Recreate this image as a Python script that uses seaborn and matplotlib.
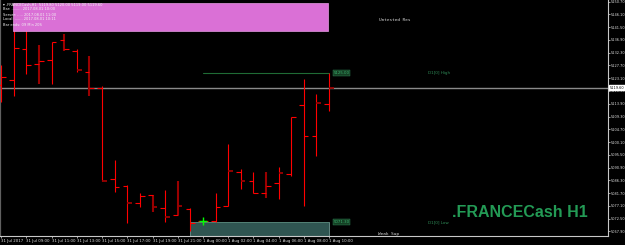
import matplotlib
matplotlib.use("Agg")
import matplotlib.pyplot as plt
import matplotlib.transforms as mtransforms
from matplotlib.patches import Rectangle
import pandas as pd
import seaborn as sns

# ---------------- data ----------------
opens  = [5120.7, 5122.5, 5133.6, 5128.2, 5129.7, 5136.9, 5132.9, 5125.3, 5119.6, 5086.8,
          5084.2, 5078.1, 5081.0, 5076.3, 5073.8, 5076.0, 5071.6, 5071.6, 5077.0, 5089.3,
          5086.1, 5081.7, 5085.3, 5088.6, 5113.4, 5102.3, 5113.8]
highs  = [5127.9, 5143.4, 5144.1, 5135.1, 5136.2, 5139.0, 5133.6, 5131.1, 5120.3, 5093.6,
          5084.6, 5081.7, 5081.0, 5082.8, 5086.1, 5076.3, 5071.9, 5081.7, 5099.4, 5090.4,
          5089.3, 5089.3, 5091.1, 5109.1, 5122.8, 5117.4, 5125.0]
lows   = [5114.5, 5116.7, 5124.6, 5121.0, 5121.0, 5132.9, 5125.3, 5116.7, 5086.1, 5082.1,
          5070.9, 5076.7, 5074.9, 5071.3, 5073.8, 5068.0, 5071.3, 5071.3, 5077.0, 5083.2,
          5081.7, 5079.9, 5079.6, 5087.9, 5077.0, 5095.1, 5111.3]
closes = [5123.5, 5134.0, 5127.9, 5129.3, 5136.2, 5133.6, 5126.1, 5119.6, 5086.1, 5083.9,
          5078.1, 5080.6, 5076.7, 5073.1, 5077.0, 5070.9, 5071.6, 5076.7, 5089.7, 5086.1,
          5081.7, 5084.2, 5088.9, 5109.1, 5102.3, 5114.2, 5119.6]
dark_body  = [0, 0, 0, 1, 0, 1, 0, 1, 0, 0, 0, 0, 1, 0, 1, 0, 0, 0, 0, 0, 0, 1, 0, 0, 0, 0, 0]
dark_close = [0, 0, 0, 0, 0, 0, 1, 0, 1, 0, 1, 0, 1, 1, 1, 0, 0, 0, 1, 1, 0, 0, 1, 0, 0, 1, 1]

x_tick_pos = [0, 2, 4, 6, 8, 10, 12, 14, 16, 18, 20, 22, 24, 26]
x_tick_labels = ["31 Jul 2017", "31 Jul 09:00", "31 Jul 11:00", "31 Jul 13:00", "31 Jul 15:00",
                 "31 Jul 17:00", "31 Jul 19:00", "31 Jul 21:00", "1 Aug 00:00", "1 Aug 02:00",
                 "1 Aug 04:00", "1 Aug 06:00", "1 Aug 08:00", "1 Aug 10:00"]
y_ticks = [5150.70, 5146.10, 5141.50, 5136.90, 5132.30, 5127.70, 5123.10, 5118.50, 5113.90,
           5109.30, 5104.70, 5100.10, 5095.50, 5090.90, 5086.30, 5081.70, 5077.10, 5072.50, 5067.90]

day_start = 16          # 1 Aug 00:00 bar
zone_start, zone_end = 15, 26
zone_top = 5071.1
current_price = closes[-1]
d1_high = max(highs[day_start:])
d1_low = min(lows[day_start:])

info_lines = ["\u25be .FRANCECash,H1  5119.80 5120.00 5119.00 5119.60",
              "Bar: ......... 2017.08.01 10:00",
              "Server: ..... 2017.08.01 11:00",
              "Local: ....... 2017.08.01 10:11",
              "Bar ends: 09 Min 20S"]

df = pd.DataFrame({"i": range(len(opens)), "open": opens, "high": highs,
                   "low": lows, "close": closes, "dark": dark_body, "dclose": dark_close})

# ---------------- style ----------------
sns.set_theme(style="dark", rc={"axes.facecolor": "black", "figure.facecolor": "black",
                                "axes.grid": False})
plt.rcParams["font.family"] = ["DejaVu Sans"]

W, H = 625, 245
fig = plt.figure(figsize=(W / 100, H / 100), dpi=100)
ax = fig.add_axes([0, 9 / H, 608 / W, 236 / H])
ax.set_facecolor("black")

RED = "#ff0000"
DRED = "#9a0000"
TICK = 0.38

# teal zone
ax.add_patch(Rectangle((zone_start, 5060), zone_end - zone_start, zone_top - 5060,
                       facecolor="#2f5551", edgecolor="#6f9590", lw=0.6, zorder=1))
ax.hlines(d1_low, zone_start, zone_end, color="#4f7f72", lw=0.6, zorder=1.5)

# OHLC bars
for _, r in df.iterrows():
    x = r["i"]
    if r["dark"]:
        ax.vlines(x, r["low"], r["high"], color=DRED, lw=1.5, zorder=3)
    else:
        ax.vlines(x, r["low"], r["high"], color=RED, lw=0.8, zorder=3)
    ax.hlines(r["open"], x - TICK, x, color=RED, lw=0.8, zorder=3)
    ax.hlines(r["close"], x, x + TICK, color=DRED if r["dclose"] else RED,
              lw=1.3 if r["dclose"] else 0.8, zorder=3)

# current price line
ax.axhline(current_price, color="#8a8a8a", lw=1.0, zorder=2)

# D1 high line
sns.lineplot(x=[day_start, len(opens) - 1], y=[d1_high, d1_high], color="#1f6b35",
             lw=0.8, ax=ax, zorder=2)

# green marker
sns.scatterplot(x=[day_start], y=[opens[day_start]], marker="+", color="#00ff00",
                s=35, linewidth=1.0, ax=ax, zorder=5)

ax.set_xlim(-0.103, 48.15)
ax.set_ylim(5066.22, 5151.30)

# axes styling
ax.spines["top"].set_visible(False)
ax.spines["left"].set_color("#606060")
ax.spines["left"].set_linewidth(1.6)
ax.spines["right"].set_color("#c8c8c8")
ax.spines["bottom"].set_color("#c8c8c8")
ax.spines["right"].set_linewidth(0.8)
ax.spines["bottom"].set_linewidth(0.8)

ax.yaxis.tick_right()
ax.set_yticks(y_ticks)
ax.set_yticklabels([f"{v:.2f}" for v in y_ticks])
ax.tick_params(axis="y", colors="#e0e0e0", labelsize=2.5, length=1.5, width=0.5, pad=0.8,
               right=True, left=False)
ax.set_xticks(x_tick_pos)
ax.set_xticklabels(x_tick_labels, ha="left")
ax.tick_params(axis="x", colors="#e0e0e0", labelsize=2.8, length=1.5, width=0.5, pad=1,
               bottom=True)
ax.set_xlabel("")
ax.set_ylabel("")
if ax.get_legend():
    ax.get_legend().remove()

# current price label on axis
bt = mtransforms.blended_transform_factory(ax.transAxes, ax.transData)
ax.text(1.003, current_price, f"{current_price:.2f}", transform=bt, fontsize=2.5,
        color="black", va="center", ha="left",
        bbox=dict(boxstyle="square,pad=0.15", fc="white", ec="white"), zorder=6, clip_on=False)

# D1 labels
for val, name in [(d1_high, "D1[0] High"), (d1_low, "D1[0] Low")]:
    ax.text(26.35, val, f"{val:.2f}", fontsize=2.8, color="#3cb371", va="center", ha="left",
            bbox=dict(boxstyle="square,pad=0.2", fc="#153f24", ec="#2e8b57", lw=0.3), zorder=6)
    ax.text(33.9, val, name, fontsize=3.0, color="#2e8b57", va="center", ha="left", zorder=6)

# annotation texts
fig.text(395 / W, 1 - 20 / H, "Untested Res", fontsize=3.2, color="#d8d8d8",
         family="DejaVu Sans Mono", ha="center", va="center")
fig.text(389 / W, 1 - 234 / H, "Weak Sup", fontsize=3.2, color="#d8d8d8",
         family="DejaVu Sans Mono", ha="center", va="center")

# pink info box
fig.patches.append(Rectangle((13 / W, 1 - 31 / H), 315 / W, 28 / H, transform=fig.transFigure,
                             facecolor="#da70d6", edgecolor="#e59be2", lw=0.5, zorder=10))
for k, line in enumerate(info_lines):
    fig.text(3 / W, 1 - (4.5 + 5 * k) / H, line, fontsize=2.6, color="#f2f2f2",
             ha="left", va="center", zorder=11)

# big symbol label
fig.text(588 / W, 1 - 217 / H, ".FRANCECash H1", fontsize=11.5, fontweight="bold",
         family=["Liberation Sans", "DejaVu Sans"], color="#239a55",
         ha="right", va="baseline")

fig.savefig("out.png", dpi=100, facecolor="black")
